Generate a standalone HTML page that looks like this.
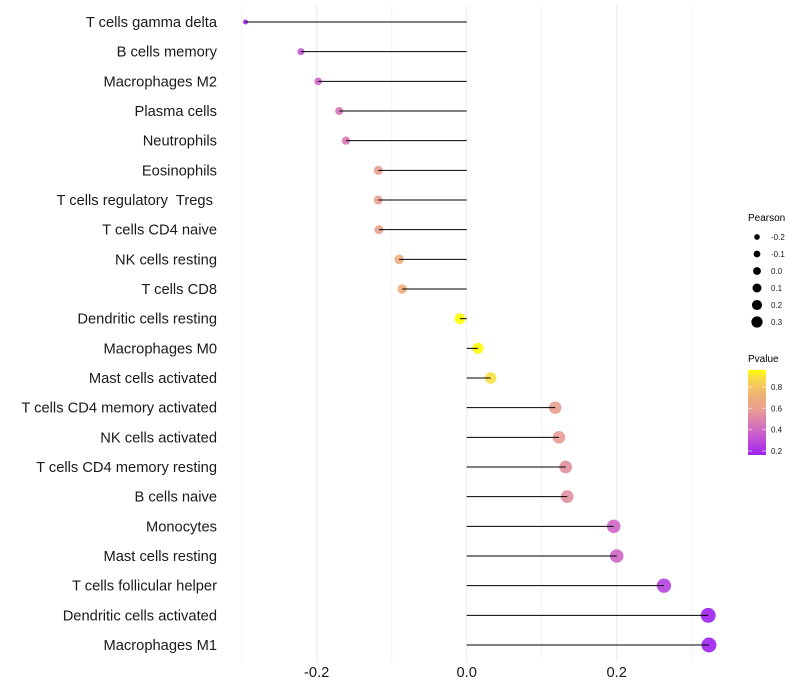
<!DOCTYPE html>
<html><head><meta charset="utf-8"><style>
body{margin:0;background:#fff;}
svg{font-family:"Liberation Sans",sans-serif;display:block}
</style></head><body>
<svg id="chart" width="800" height="700">
<defs><linearGradient id="pg" x1="0" y1="1" x2="0" y2="0">
<stop offset="0" stop-color="#a020f0"/><stop offset="0.18" stop-color="#c050d8"/><stop offset="0.36" stop-color="#d878b8"/><stop offset="0.55" stop-color="#e8a090"/><stop offset="0.74" stop-color="#f0b870"/><stop offset="0.92" stop-color="#f8e040"/><stop offset="1" stop-color="#ffff00"/>
</linearGradient></defs>
<g id="grid"></g>
<g id="marks"></g>
<g id="ylab"></g>
<g id="xlab"></g>
<g id="sleg">
<text x="748" y="221" font-size="10">Pearson</text>
</g>
<g>
<text x="748" y="362" font-size="10">Pvalue</text>
<rect x="748" y="370" width="18" height="85" fill="url(#pg)"/>
<g id="cleg"></g>
</g>
</svg>
<script>
const categories=["T cells gamma delta","B cells memory","Macrophages M2","Plasma cells","Neutrophils","Eosinophils","T cells regulatory  Tregs ","T cells CD4 naive","NK cells resting","T cells CD8","Dendritic cells resting","Macrophages M0","Mast cells activated","T cells CD4 memory activated","NK cells activated","T cells CD4 memory resting","B cells naive","Monocytes","Mast cells resting","T cells follicular helper","Dendritic cells activated","Macrophages M1"];
const pearson=[-0.295,-0.221,-0.198,-0.170,-0.161,-0.118,-0.118,-0.117,-0.090,-0.086,-0.009,0.015,0.032,0.118,0.123,0.132,0.134,0.196,0.200,0.263,0.322,0.323];
const pvalue=[0.17,0.33,0.38,0.44,0.45,0.62,0.62,0.62,0.72,0.72,0.97,0.96,0.9,0.62,0.6,0.55,0.55,0.38,0.38,0.26,0.16,0.16];
const xTicks=[-0.2,0,0.2];
const xTickLabels=["-0.2","0.0","0.2"];
const sizeBreaks=[-0.2,-0.1,0.0,0.1,0.2,0.3];
const sizeLabels=["-0.2","-0.1","0.0","0.1","0.2","0.3"];
const pBreaks=[0.2,0.4,0.6,0.8];
const pLabels=["0.2","0.4","0.6","0.8"];
const NS="http://www.w3.org/2000/svg";
const xs=v=>466.7+v*750;
const ys=i=>22+i*(623/21);
const rs=v=>Math.sqrt(Math.max(2.5,30+v*80));
const lr=v=>4.8+v*6.8;
const stops=[[0.16,[160,32,240]],[0.3,[192,80,216]],[0.45,[216,120,184]],[0.62,[232,160,144]],[0.78,[240,184,112]],[0.9,[248,224,64]],[0.97,[255,255,0]]];
function col(p){p=Math.max(0.16,Math.min(0.97,p));for(let k=0;k<stops.length-1;k++){const a=stops[k],b=stops[k+1];if(p<=b[0]){const t=(p-a[0])/(b[0]-a[0]);return 'rgb('+a[1].map((c,j)=>Math.round(c+(b[1][j]-c)*t)).join(',')+')';}}return 'rgb(255,255,0)';}
function mk(t,a,parent){const e=document.createElementNS(NS,t);for(const k in a)e.setAttribute(k,a[k]);parent.appendChild(e);return e;}
const grid=document.getElementById('grid');
for(let g=-3;g<=3;g++){const v=g/10;const l=mk('line',{x1:xs(v),x2:xs(v),y1:5,y2:662,stroke:(g%2===0)?'#ebebeb':'#f4f4f4','stroke-width':1},grid);

}
const marks=document.getElementById('marks'),ylab=document.getElementById('ylab'),xlab=document.getElementById('xlab');
categories.forEach((c,i)=>{const y=ys(i),v=pearson[i];
const pt=mk('circle',{cx:xs(v),cy:y,r:rs(v),fill:col(pvalue[i]),'fill-opacity':0.9},marks);


const ln=mk('line',{x1:xs(0),x2:xs(v),y1:y,y2:y,stroke:'#000','stroke-width':1},marks);


const t=mk('text',{x:217,y:y+5,'text-anchor':'end','font-size':14.7,fill:'#1a1a1a'},ylab);t.textContent=c;
t.style.whiteSpace='pre';

});
xTicks.forEach((v,i)=>{const t=mk('text',{x:xs(v),y:677,'text-anchor':'middle','font-size':14.7,fill:'#1a1a1a'},xlab);t.textContent=xTickLabels[i];

});
const sleg=document.getElementById('sleg');
sizeBreaks.forEach((v,i)=>{const y=237+i*17;const c=mk('circle',{cx:757,cy:y,r:lr(v)*0.82,fill:'#000'},sleg);


const t=mk('text',{x:771,y:y+3,'font-size':8,fill:'#1a1a1a'},sleg);t.textContent=sizeLabels[i];

});
const cleg=document.getElementById('cleg');
pBreaks.forEach((p,i)=>{const y=451-(p-0.2)*106.7;
mk('line',{x1:748,x2:752,y1:y,y2:y,stroke:'#fff','stroke-opacity':0.6},cleg);
mk('line',{x1:762,x2:766,y1:y,y2:y,stroke:'#fff','stroke-opacity':0.6},cleg);
const t=mk('text',{x:771,y:y+3,'font-size':8,fill:'#1a1a1a'},cleg);t.textContent=pLabels[i];

});
</script>
</body></html>
